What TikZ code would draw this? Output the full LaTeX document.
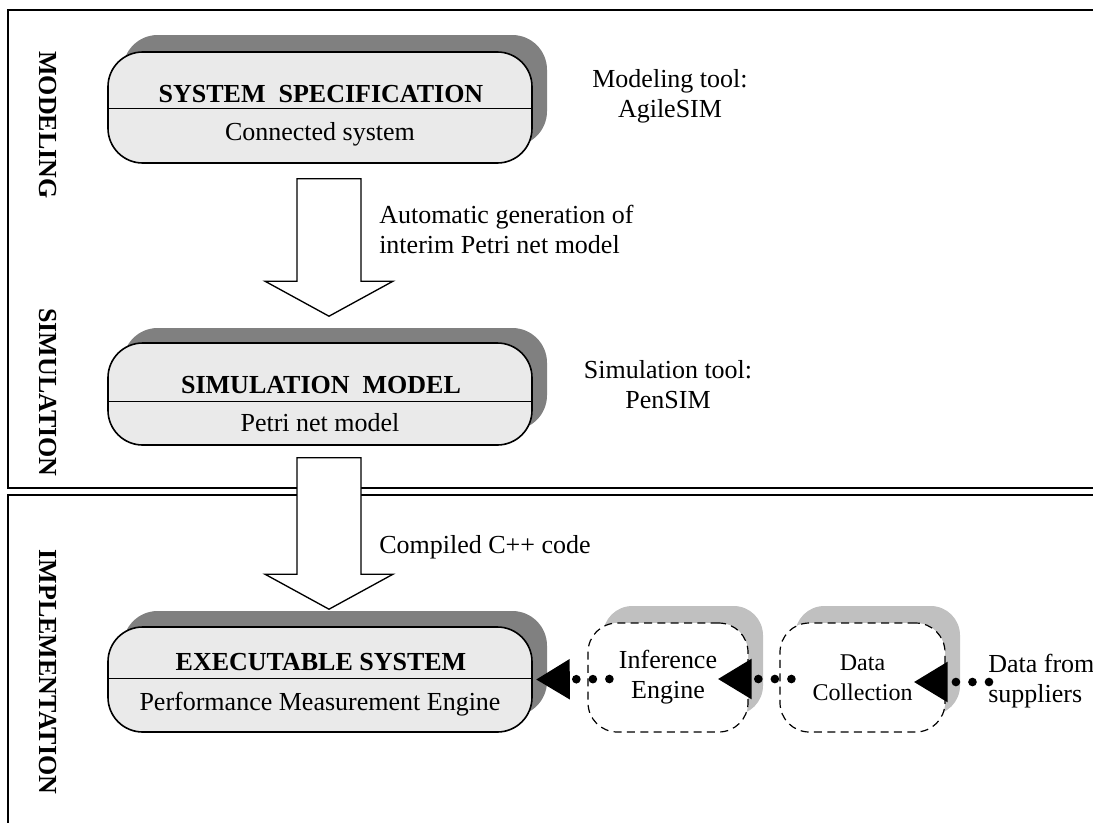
\documentclass[tikz,border=0pt]{standalone}
\usepackage{fontspec}
\setmainfont{Liberation Serif}
\usetikzlibrary{calc, arrows.meta}
\definecolor{boxgray}{RGB}{234,234,234}
\definecolor{shadowdark}{RGB}{128,128,128}
\definecolor{shadowlight}{RGB}{192,192,192}

\begin{document}
\begin{tikzpicture}[x=0.75pt,y=0.75pt,yscale=-1,xscale=1,
  every node/.style={font=\fontsize{19.5}{22.5}\selectfont},
  titletext/.style={font=\bfseries\fontsize{19.5}{22.5}\selectfont},
  stagebox/.style={draw, line width=1.2pt, fill=boxgray, rounded corners=26pt, minimum width=318pt, inner sep=0pt},
  sourcebox/.style={draw, line width=0.9pt, dash pattern=on 6pt off 4pt, fill=white, rounded corners=22pt, minimum height=81.75pt, inner sep=0pt, align=center},
  frameline/.style={line width=1.5pt},
  fatarrow/.style={draw, line width=1pt, fill=white, line join=miter},
  dotlink/.style={line width=6.5pt, line cap=round, dash pattern=on 0pt off 12.4pt, -{Triangle[length=25.5pt,width=28.5pt]}},
]
\clip (0,0) rectangle (1093,822);

%Frames
\draw [frameline] (1100,10) -- (8,10) -- (8,488) -- (1100,488) ;
\draw [frameline] (1100,495) -- (8,495) -- (8,830) ;

%Shadows
\fill [shadowdark, rounded corners=26pt] (123,35) rectangle (547,146) ;
\fill [shadowdark, rounded corners=26pt] (123,328) rectangle (547,430) ;
\fill [shadowdark, rounded corners=26pt] (123,611) rectangle (547,716) ;
\fill [shadowlight, rounded corners=22pt] (603,606) rectangle (763,715) ;
\fill [shadowlight, rounded corners=22pt] (795,606) rectangle (960,715) ;

%Stage boxes
\draw (320,107.5) node (spec) [stagebox, minimum height=83.25pt] {} ;
\draw [line width=1pt] ($(spec.north west)+(0,57)$) -- ($(spec.north east)+(0,57)$) ;
\draw (320,394) node (model) [stagebox, minimum height=76.5pt] {} ;
\draw [line width=1pt] ($(model.north west)+(0,59)$) -- ($(model.north east)+(0,59)$) ;
\draw (320,679.5) node (exec) [stagebox, minimum height=78.75pt] {} ;
\draw [line width=1pt] ($(exec.north west)+(0,52)$) -- ($(exec.north east)+(0,52)$) ;

%Source boxes
\draw (668,677.5) node (infer) [sourcebox, minimum width=120pt] {Inference\\Engine} ;
\draw (862.5,677.5) node (collect) [sourcebox, minimum width=123.75pt, font=\fontsize{18}{22.5}\selectfont] {Data\\Collection} ;

% Text Node
\draw (321,102) node (specT) [anchor=base, titletext] {SYSTEM~~SPECIFICATION} ;
% Text Node
\draw (320,140) node (specS) [anchor=base] {Connected system} ;
% Text Node
\draw (321,393) node (modelT) [anchor=base, titletext] {SIMULATION~~MODEL} ;
% Text Node
\draw (320,431) node (modelS) [anchor=base] {Petri net model} ;
% Text Node
\draw (321,670) node (execT) [anchor=base, titletext] {EXECUTABLE SYSTEM} ;
% Text Node
\draw (320,710) node (execS) [anchor=base] {Performance Measurement Engine} ;

% Text Node
\draw (670,117) node (modTool) [anchor=base, align=center] {Modeling tool:\\AgileSIM} ;
% Text Node
\draw (668,408) node (simTool) [anchor=base, align=center] {Simulation tool:\\PenSIM} ;
% Text Node
\draw (379,253) node (genText) [anchor=base west, inner sep=0pt, align=left] {Automatic generation of\\interim Petri net model} ;
% Text Node
\draw (379,553) node (cppText) [anchor=base west, inner sep=0pt] {Compiled C++ code} ;
% Text Node
\draw (988,702) node (supp) [anchor=base west, inner sep=0pt, align=left] {Data from\\suppliers} ;

% Text Node
\draw (48,125) node (modLabel) [rotate=-90, titletext] {MODELING} ;
% Text Node
\draw (48,392.5) node (simLabel) [rotate=-90, titletext] {SIMULATION} ;
% Text Node
\draw (48,672) node (impLabel) [rotate=-90, titletext] {IMPLEMENTATION} ;

%Block Arrow
\coordinate (a1) at ($(spec.south)+(9,15)$) ;
\coordinate (t1) at ($(model.north)+(9,-26)$) ;
\draw [fatarrow] ($(a1)+(-32,0)$) -- ($(a1)+(32,0)$) -- ($(t1)+(32,-35)$) -- ($(t1)+(64,-35)$) -- (t1) -- ($(t1)+(-64,-35)$) -- ($(t1)+(-32,-35)$) -- cycle ;
%Block Arrow
\coordinate (a2) at ($(model.south)+(9,12)$) ;
\coordinate (t2) at ($(exec.north)+(9,-17)$) ;
\draw [fatarrow] ($(a2)+(-32,0)$) -- ($(a2)+(32,0)$) -- ($(t2)+(32,-35)$) -- ($(t2)+(64,-35)$) -- (t2) -- ($(t2)+(-64,-35)$) -- ($(t2)+(-32,-35)$) -- cycle ;

%Dotted Arrows
\draw [dotlink] ($(infer.west)+(22,1.5)$) -- ($(exec.east)+(3,0)$) ;
\draw [dotlink] ($(collect.west)+(12,1.5)$) -- ($(infer.east)+(-31,1.5)$) ;
\draw [dotlink] ($(supp.base west)+(1,-20)$) -- ($(collect.east)+(-32,4.5)$) ;

\end{tikzpicture}
\end{document}
